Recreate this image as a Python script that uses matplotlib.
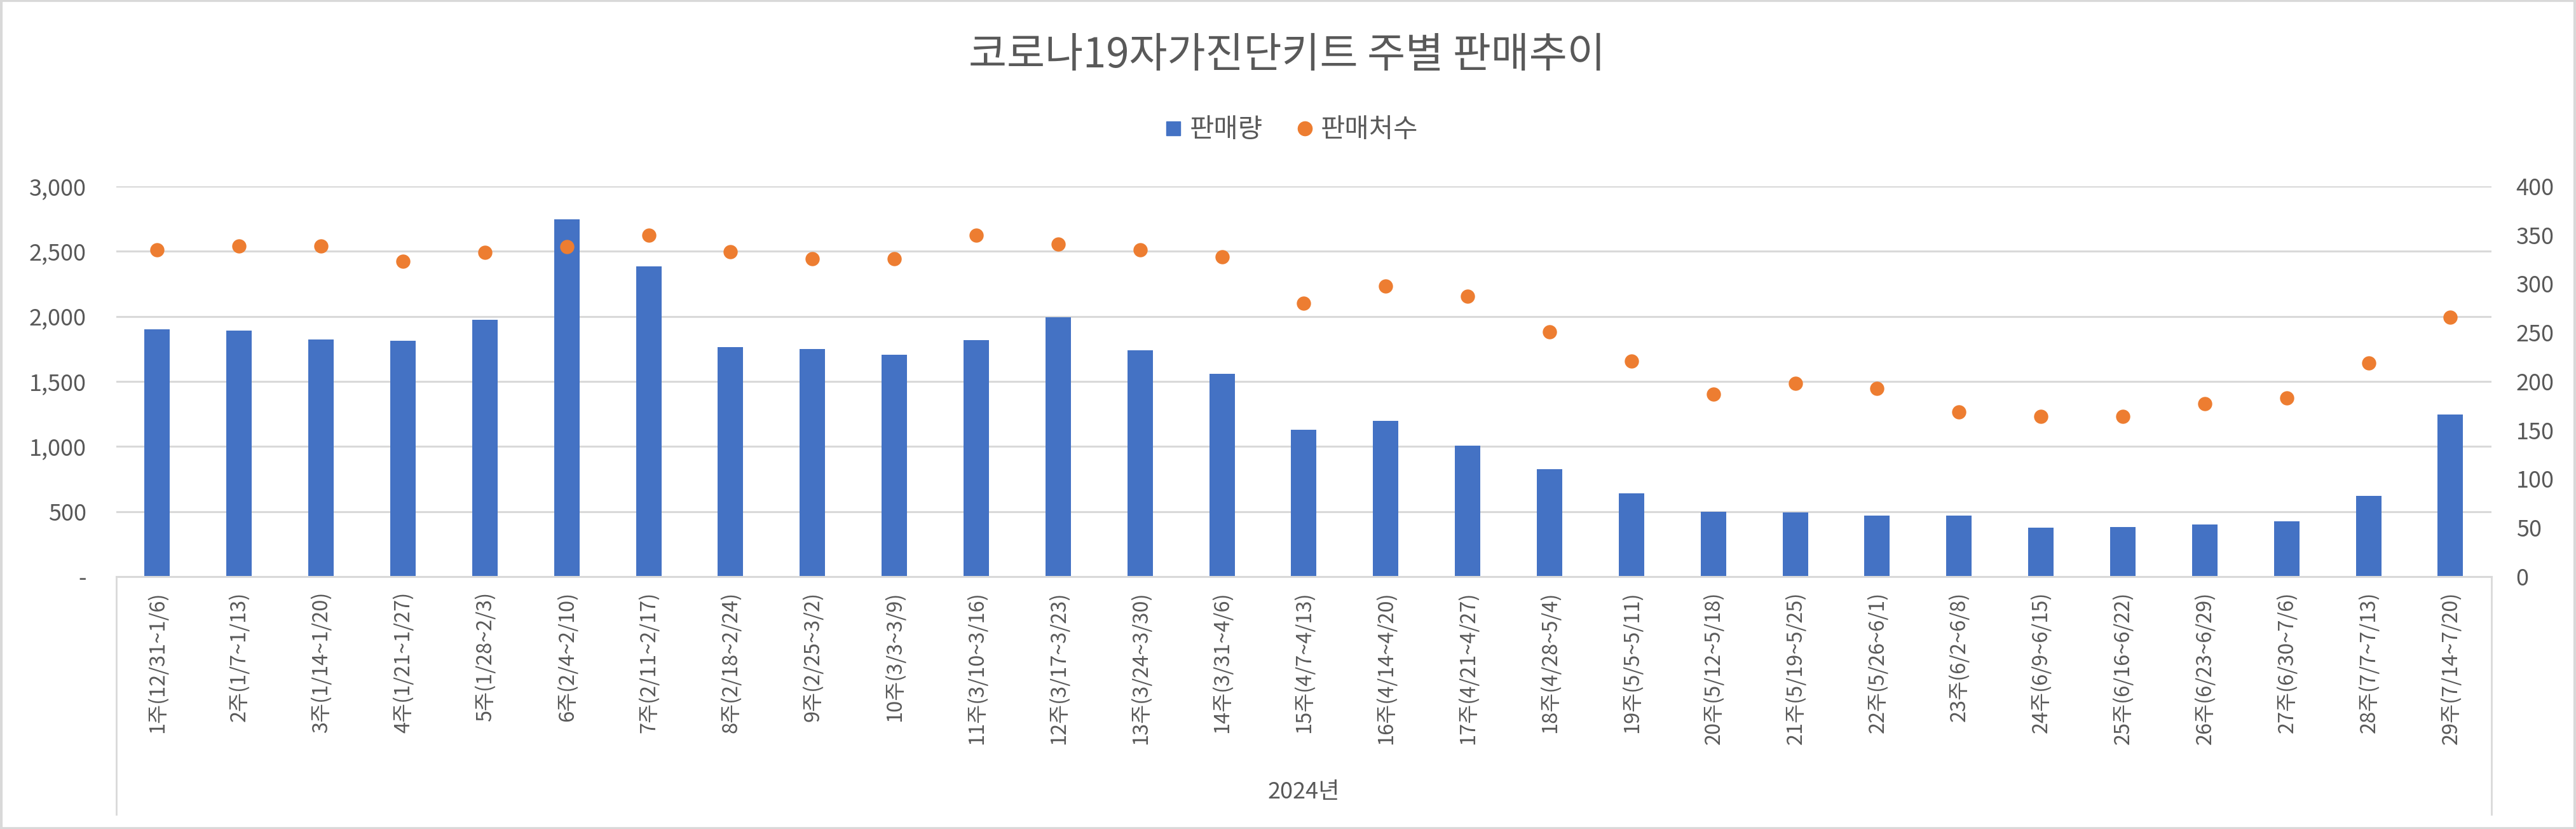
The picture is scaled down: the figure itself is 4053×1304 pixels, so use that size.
import matplotlib.pyplot as plt
from matplotlib.lines import Line2D
from matplotlib.patches import Rectangle
import numpy as np

plt.rcParams['font.family'] = ['Noto Sans CJK KR', 'DejaVu Sans']

# data
weeks = ['1주(12/31~1/6)', '2주(1/7~1/13)', '3주(1/14~1/20)', '4주(1/21~1/27)',
         '5주(1/28~2/3)', '6주(2/4~2/10)', '7주(2/11~2/17)', '8주(2/18~2/24)',
         '9주(2/25~3/2)', '10주(3/3~3/9)', '11주(3/10~3/16)', '12주(3/17~3/23)',
         '13주(3/24~3/30)', '14주(3/31~4/6)', '15주(4/7~4/13)', '16주(4/14~4/20)',
         '17주(4/21~4/27)', '18주(4/28~5/4)', '19주(5/5~5/11)', '20주(5/12~5/18)',
         '21주(5/19~5/25)', '22주(5/26~6/1)', '23주(6/2~6/8)', '24주(6/9~6/15)',
         '25주(6/16~6/22)', '26주(6/23~6/29)', '27주(6/30~7/6)', '28주(7/7~7/13)',
         '29주(7/14~7/20)']
sales = [1901, 1892, 1822, 1812, 1973, 2747, 2385, 1764, 1748, 1705, 1816, 1993,
         1740, 1559, 1129, 1199, 1007, 826, 641, 499, 491, 471, 467, 377, 382,
         401, 427, 621, 1247]
stores = [335, 339, 339, 323, 332, 338, 350, 333, 326, 326, 350, 341, 335, 328,
          280, 298, 287, 251, 221, 187, 198, 193, 169, 164, 164, 177, 183, 219, 266]
left_ticks = [0, 500, 1000, 1500, 2000, 2500, 3000]
right_ticks = [0, 50, 100, 150, 200, 250, 300, 350, 400]
year_label = '2024년'
title = '코로나19자가진단키트 주별 판매추이'
series_names = ['판매량', '판매처수']

text_color = '#595959'
grid_color = '#D9D9D9'
blue = '#4472C4'
orange = '#ED7D31'

fig = plt.figure(figsize=(40.53, 13.04), dpi=100)
ax = fig.add_axes([0.04515, 0.3045, 0.922, 0.4708])
ax2 = ax.twinx()

x = np.arange(len(weeks))
ax.bar(x, sales, width=0.31, color=blue, zorder=2)
ax2.scatter(x, stores, s=260, color=orange, linewidths=0, zorder=3)

ax.set_xlim(-0.5, len(weeks) - 0.5)
ax.set_ylim(0, 3000)
ax.set_yticks(left_ticks)
ax.set_yticklabels(['-' if v == 0 else f'{v:,}' for v in left_ticks])
ax2.set_ylim(0, 400)
ax2.set_yticks(right_ticks)

ax.grid(axis='y', color=grid_color, lw=2.2)
ax.set_axisbelow(True)
for s in ['top', 'left', 'right']:
    ax.spines[s].set_visible(False)
ax.spines['bottom'].set_color(grid_color)
ax.spines['bottom'].set_linewidth(2.2)
for s in ax2.spines.values():
    s.set_visible(False)

ax.set_xticks(x)
ax.set_xticklabels(weeks, rotation=90, fontsize=23.5, color=text_color)
ax.tick_params(axis='x', length=0, pad=17)
ax.tick_params(axis='y', length=0, pad=34, labelsize=26, labelcolor=text_color)
ax2.tick_params(axis='y', length=0, pad=28, labelsize=26, labelcolor=text_color)

# title and legend
fig.text(0.4996, 0.933, title, fontsize=47, color=text_color, ha='center', va='center')
handles = [Line2D([], [], marker='s', ls='', color=blue, markersize=16),
           Line2D([], [], marker='o', ls='', color=orange, markersize=16)]
fig.legend(handles, series_names, loc='center', bbox_to_anchor=(0.5, 0.843), ncol=2,
           frameon=False, fontsize=30, labelcolor=text_color, handletextpad=0.0,
           handlelength=1.2, columnspacing=1.0)

# category group box under the axis, year label centred on the plot area
for xf in [0.04515, 0.9672]:
    fig.add_artist(Line2D([xf, xf], [0.3045, 0.018], transform=fig.transFigure,
                          color=grid_color, lw=2))
ax.text(0.5, 0.0445, year_label, fontsize=26, color=text_color, ha='center', va='center',
        transform=ax.get_xaxis_transform().__class__(ax.transAxes, fig.transFigure))

# outer chart border
fig.add_artist(Rectangle((0.0005, 0.001), 0.999, 0.998, transform=fig.transFigure,
                         fill=False, edgecolor=grid_color, lw=3))

fig.savefig('out.png', dpi=100)
